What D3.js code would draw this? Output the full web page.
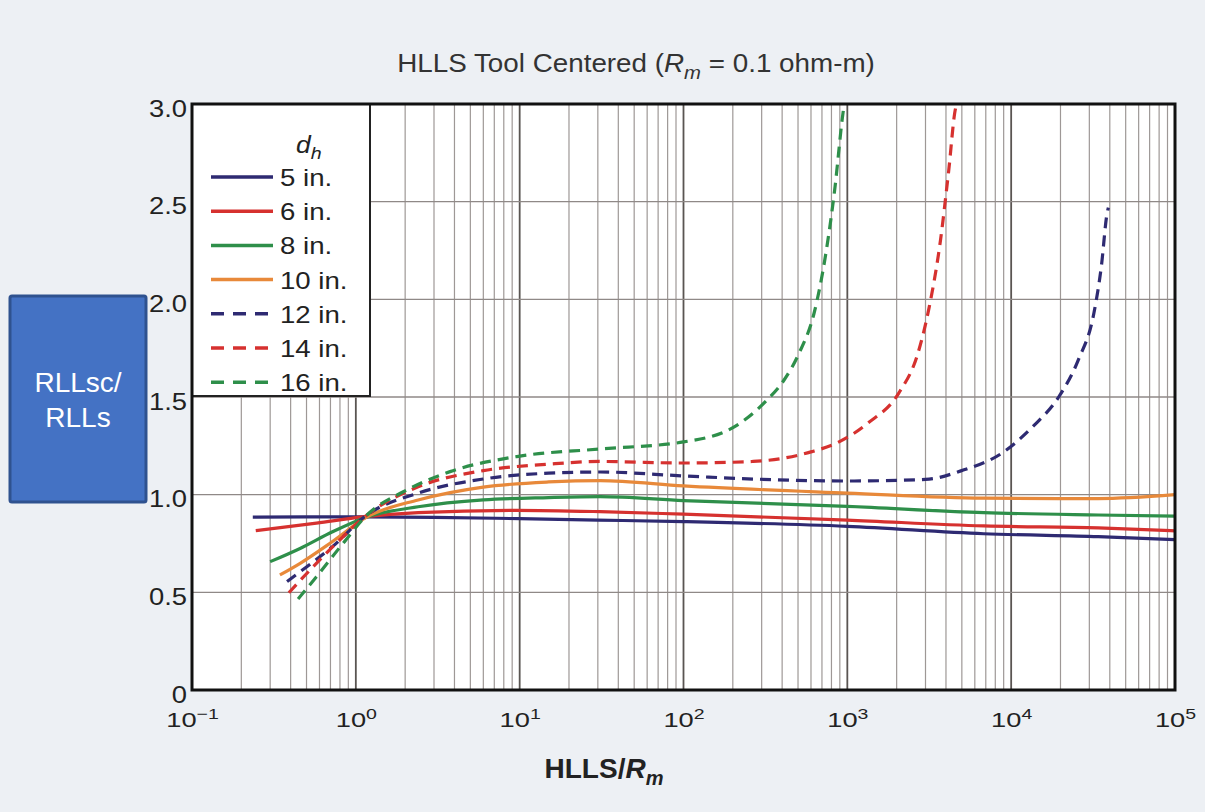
<!DOCTYPE html>
<html>
<head>
<meta charset="utf-8">
<script src="https://cdn.jsdelivr.net/npm/d3@7/dist/d3.min.js"></script>
<style>
  html, body { margin: 0; padding: 0; background: #edf0f4; }
  svg { display: block; font-family: "Liberation Sans", Arial, sans-serif; }
</style>
</head>
<body>
<svg id="chart" width="1205" height="812"></svg>
<script>
// Ratio RLLsc/RLLs versus HLLS/Rm for several hole diameters d_h
const seriesNames = ["5 in.", "6 in.", "8 in.", "10 in.", "12 in.", "14 in.", "16 in."];
const seriesColors = ["#2e2a72", "#d6312f", "#2e8f4a", "#e8893a", "#2e2a72", "#d6312f", "#2e8f4a"];
const seriesDashed = [false, false, false, false, true, true, true];

const d5 = [[0.235,0.885],[0.5,0.886],[1.15,0.886],[3,0.884],[10,0.877],[30,0.87],[100,0.862],[1000,0.838],[6800,0.80],[34000,0.785],[100000,0.77]];
const d6 = [[0.245,0.816],[0.575,0.854],[1.1,0.886],[2.4,0.908],[9.6,0.92],[31,0.913],[100,0.9],[1000,0.87],[6800,0.84],[34000,0.83],[100000,0.815]];
const d8 = [[0.3,0.657],[0.46,0.726],[0.72,0.81],[1.17,0.886],[2.4,0.938],[6,0.973],[15,0.985],[31,0.99],[100,0.97],[1000,0.94],[6800,0.908],[34000,0.896],[100000,0.89]];
const d10 = [[0.344,0.589],[0.46,0.65],[0.72,0.76],[1.17,0.886],[2.4,0.973],[6,1.039],[15,1.065],[31,1.072],[100,1.045],[1000,1.008],[6800,0.982],[34000,0.98],[100000,1.0]];
const d12 = [[0.38,0.555],[0.5,0.63],[0.72,0.734],[1.17,0.896],[2.4,1.008],[6,1.08],[15,1.11],[31,1.116],[100,1.096],[266,1.08],[1000,1.07],[3000,1.078],[5100,1.126],[8800,1.213],[13500,1.347],[19500,1.5],[25700,1.69],[32000,1.93],[35500,2.167],[38500,2.44],[39200,2.47]];
const d14 = [[0.39,0.498],[0.525,0.614],[0.76,0.751],[1.17,0.896],[2.4,1.04],[6,1.123],[15,1.156],[31,1.17],[100,1.162],[266,1.17],[600,1.219],[865,1.265],[1340,1.367],[2060,1.52],[2700,1.725],[3160,1.96],[3700,2.30],[4140,2.645],[4600,2.985],[4680,3.0]];
const d16 = [[0.444,0.466],[0.575,0.58],[0.836,0.751],[1.17,0.896],[1.95,1.015],[3.76,1.118],[9.6,1.195],[31,1.234],[100,1.27],[204,1.347],[315,1.475],[411,1.587],[508,1.725],[627,1.93],[741,2.24],[841,2.575],[933,2.93],[950,2.98]];
const seriesData = [d5, d6, d8, d10, d12, d14, d16];

const xTickExps = [-1, 0, 1, 2, 3, 4, 5];
const yTicks = [0, 0.5, 1.0, 1.5, 2.0, 2.5, 3.0];
const yTickLabels = ["0", "0.5", "1.0", "1.5", "2.0", "2.5", "3.0"];

const svg = d3.select("#chart");
const L = 192, R = 1175, T = 104, B = 690;

const x = d3.scaleLog().domain([0.1, 1e5]).range([L, R]);
const y = d3.scaleLinear().domain([0, 3]).range([B, T]);

// text placed with a horizontal stretch (the chart lettering is wide-set)
function wideText(parent, px, py, sx, size) {
  return parent.append("text")
    .attr("transform", `translate(${px},${py}) scale(${sx},1)`)
    .attr("font-size", size);
}

// plot background
svg.append("rect").attr("x", L).attr("y", T).attr("width", R - L).attr("height", B - T).attr("fill", "#ffffff");

// grid
const grid = svg.append("g");
const minorX = [];
for (let e = -1; e < 5; e++) for (let k = 2; k <= 9; k++) minorX.push(k * Math.pow(10, e));
grid.selectAll("line.minor").data(minorX).join("line")
  .attr("x1", d => x(d)).attr("x2", d => x(d)).attr("y1", T).attr("y2", B)
  .attr("stroke", "#9e9896").attr("stroke-width", 1.2);
grid.selectAll("line.major").data(xTickExps.map(e => Math.pow(10, e))).join("line")
  .attr("x1", d => x(d)).attr("x2", d => x(d)).attr("y1", T).attr("y2", B)
  .attr("stroke", "#5a5552").attr("stroke-width", 1.8);
grid.selectAll("line.h").data(yTicks).join("line")
  .attr("x1", L).attr("x2", R).attr("y1", d => y(d)).attr("y2", d => y(d))
  .attr("stroke", "#8f8987").attr("stroke-width", 1.4);

// curves
const line = d3.line().x(d => x(d[0])).y(d => y(d[1])).curve(d3.curveMonotoneX);
const curves = svg.append("g");
seriesData.forEach((data, i) => {
  curves.append("path").datum(data)
    .attr("d", line)
    .attr("fill", "none")
    .attr("stroke", seriesColors[i])
    .attr("stroke-width", 3.2)
    .attr("stroke-dasharray", seriesDashed[i] ? "11,7" : null);
});

// legend
const lg = svg.append("g");
lg.append("rect").attr("x", L).attr("y", T).attr("width", 178).attr("height", 292)
  .attr("fill", "#ffffff").attr("stroke", "#222").attr("stroke-width", 2);
const lt = wideText(lg, 296, 153, 1.15, 23).attr("fill", "#222").attr("font-style", "italic");
lt.append("tspan").text("d");
lt.append("tspan").attr("font-size", 17).attr("dy", 6).text("h");
seriesNames.forEach((name, i) => {
  const cy = 177 + i * 34.2;
  lg.append("line").attr("x1", 211).attr("x2", 273).attr("y1", cy).attr("y2", cy)
    .attr("stroke", seriesColors[i]).attr("stroke-width", 3.5)
    .attr("stroke-dasharray", seriesDashed[i] ? "13,9" : null);
  wideText(lg, 280, cy + 9, 1.2, 23).attr("fill", "#222").text(name);
});

// frame
svg.append("rect").attr("x", L).attr("y", T).attr("width", R - L).attr("height", B - T)
  .attr("fill", "none").attr("stroke", "#111").attr("stroke-width", 3);

// y axis labels
const yAxis = d3.axisLeft(y).tickValues(yTicks).tickSize(0).tickFormat("");
const ya = svg.append("g").attr("transform", `translate(${L},0)`).call(yAxis);
ya.select(".domain").remove();
ya.selectAll(".tick").each(function(d, i) {
  d3.select(this).select("text").remove();
  wideText(d3.select(this), -5, 12, 1.14, 24)
    .attr("text-anchor", "end").attr("fill", "#222").text(yTickLabels[i]);
});

// x axis labels with superscript exponents
const xAxis = d3.axisBottom(x).tickValues(xTickExps.map(e => Math.pow(10, e))).tickSize(0).tickFormat("");
const xa = svg.append("g").attr("transform", `translate(0,${B})`).call(xAxis);
xa.select(".domain").remove();
xa.selectAll(".tick").each(function(d, i) {
  d3.select(this).select("text").remove();
  const t = wideText(d3.select(this), 0, 37, 1.3, 21)
    .attr("text-anchor", "middle").attr("fill", "#222");
  t.append("tspan").text("10");
  t.append("tspan").attr("font-size", 15).attr("dy", -8)
    .text(xTickExps[i] < 0 ? "\u2212" + Math.abs(xTickExps[i]) : xTickExps[i]);
});

// title
const title = wideText(svg, 636, 72, 1.07, 26).attr("text-anchor", "middle").attr("fill", "#333");
title.append("tspan").text("HLLS Tool Centered (");
title.append("tspan").attr("font-style", "italic").text("R");
title.append("tspan").attr("font-style", "italic").attr("font-size", 19).attr("dy", 7).text("m");
title.append("tspan").attr("dy", -7).text(" = 0.1 ohm-m)");

// x axis title
const xt = svg.append("text").attr("x", 604).attr("y", 778).attr("text-anchor", "middle")
  .attr("font-size", 28).attr("font-weight", "bold").attr("fill", "#222");
xt.append("tspan").text("HLLS/");
xt.append("tspan").attr("font-style", "italic").text("R");
xt.append("tspan").attr("font-style", "italic").attr("font-size", 20).attr("dy", 7).text("m");

// y axis title box
svg.append("rect").attr("x", 10).attr("y", 296).attr("width", 136).attr("height", 206).attr("rx", 2)
  .attr("fill", "#4472c4").attr("stroke", "#2f528f").attr("stroke-width", 3);
const yt = svg.append("text").attr("text-anchor", "middle").attr("font-size", 28).attr("fill", "#ffffff");
yt.append("tspan").attr("x", 78).attr("y", 392).text("RLLsc/");
yt.append("tspan").attr("x", 78).attr("y", 427).text("RLLs");
</script>
</body>
</html>
